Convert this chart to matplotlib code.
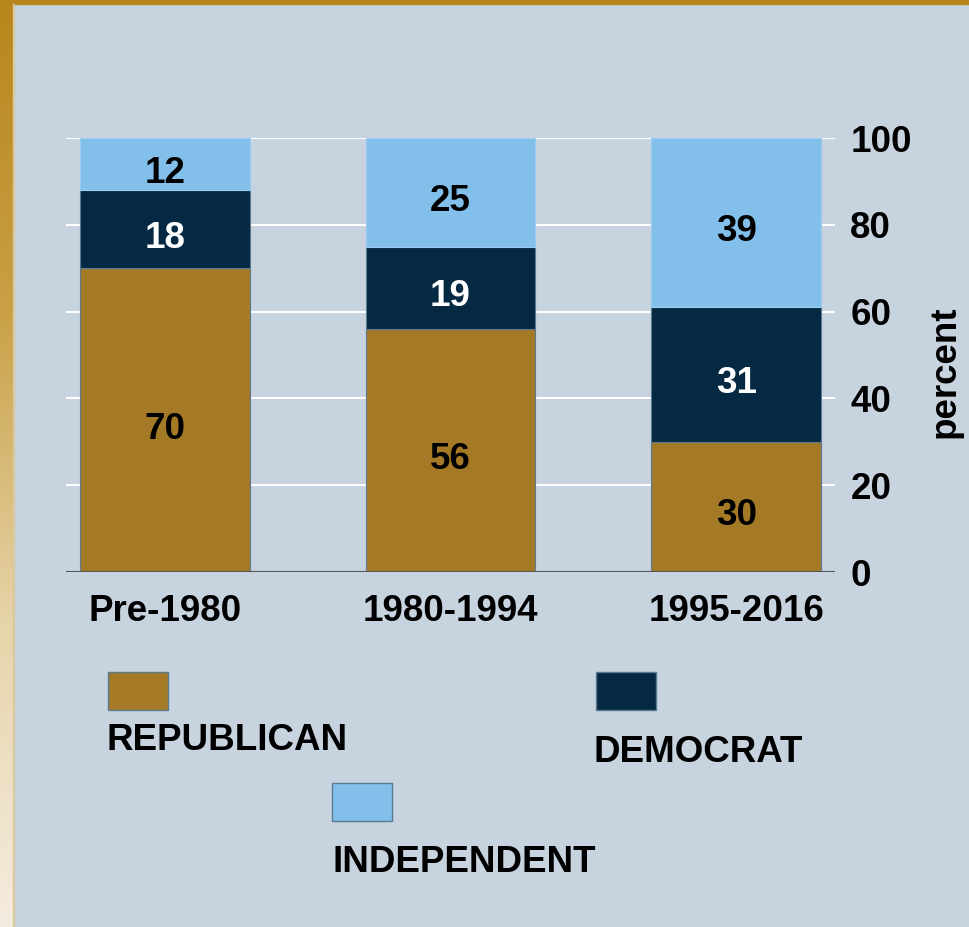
import numpy as np
import matplotlib
matplotlib.use('Agg')
import matplotlib.pyplot as plt
from matplotlib.patches import Rectangle
from matplotlib.colors import LinearSegmentedColormap

plt.rcParams['font.family'] = ['Liberation Sans', 'DejaVu Sans']
plt.rcParams['font.weight'] = 'bold'

periods = ['Pre-1980', '1980-1994', '1995-2016']
republican = [70, 56, 30]
democrat = [18, 19, 31]
independent = [12, 25, 39]
yticks = [0, 20, 40, 60, 80, 100]

BG = '#c7d3df'
REP_COLOR = '#a57a27'
DEM_COLOR = '#052942'
IND_COLOR = '#82c0eb'
EDGE = '#5a7a92'
FS = 26.5

W, H = 970, 927
fig = plt.figure(figsize=(W / 100, H / 100), dpi=100)
fig.patch.set_facecolor(BG)

def px(x, y, w, h):
    # pixel box (top-left origin) -> figure fraction
    return [x / W, 1 - (y + h) / H, w / W, h / H]

# gold frame: left gradient strip and top bar
strip = fig.add_axes(px(0, 0, 13, H))
cmap = LinearSegmentedColormap.from_list('gold', ['#b8861c', '#c9a045', '#e6d3a8', '#f4ecdf'])
strip.imshow(np.linspace(0, 1, 256).reshape(-1, 1), aspect='auto', cmap=cmap)
strip.axis('off')
fig.patches.append(Rectangle((0, 1 - 4 / H), 1, 4 / H, transform=fig.transFigure,
                             color='#b8861c', zorder=5))
fig.patches.append(Rectangle((13 / W, 0), 1.5 / W, 1 - 4 / H, transform=fig.transFigure,
                             color='#d9c9a0', zorder=5))

ax = fig.add_axes(px(66, 138, 769, 434))
ax.set_facecolor(BG)
x = np.arange(len(periods))
width = 0.594

dem_bottom = np.array(republican)
ind_bottom = np.array(republican) + np.array(democrat)

ax.bar(x, republican, width, color=REP_COLOR, edgecolor=EDGE, linewidth=0.8, zorder=3)
ax.bar(x, democrat, width, bottom=dem_bottom, color=DEM_COLOR, edgecolor=EDGE, linewidth=0.8, zorder=3)
ax.bar(x, independent, width, bottom=ind_bottom, color=IND_COLOR, edgecolor='#9ccbee', linewidth=0.8, zorder=3)

def seg_label(xi, y, val, color):
    ax.annotate(str(val), (xi, y), xytext=(0, -6.5), textcoords='offset points',
                ha='center', va='center', fontsize=FS, fontweight='bold',
                color=color, zorder=4)

for i in range(len(periods)):
    seg_label(x[i], republican[i] / 2, republican[i], 'black')
    seg_label(x[i], dem_bottom[i] + democrat[i] / 2, democrat[i], 'white')
    seg_label(x[i], ind_bottom[i] + independent[i] / 2, independent[i], 'black')

ax.set_xlim(-0.346, 2.346)
ax.set_ylim(0, 100)
for y in yticks[1:]:
    ax.axhline(y, color='white', linewidth=1.5, zorder=1)
ax.axhline(0, color='#555555', linewidth=1.5, zorder=4)

for s in ax.spines.values():
    s.set_visible(False)
ax.yaxis.tick_right()
ax.set_yticks(yticks)
ax.set_yticklabels([str(t) for t in yticks], fontsize=FS, fontweight='bold')
ax.tick_params(axis='y', length=0, pad=11)
ax.set_xticks(x)
ax.set_xticklabels(periods, fontsize=FS, fontweight='bold')
ax.tick_params(axis='x', length=0, pad=16)
fig.text(945 / W, 1 - 372 / H, 'percent', rotation=90, ha='center', va='center',
         fontsize=FS, fontweight='bold')

# legend drawn by hand
legend = [
    (REP_COLOR, 'REPUBLICAN', 108, 672, 107, 740),
    (DEM_COLOR, 'DEMOCRAT', 596, 672, 593, 753),
    (IND_COLOR, 'INDEPENDENT', 332, 783, 333, 863),
]
for color, label, bx, by, tx, ty in legend:
    fig.patches.append(Rectangle((bx / W, 1 - (by + 38) / H), 60 / W, 38 / H,
                                 transform=fig.transFigure, facecolor=color,
                                 edgecolor=EDGE, linewidth=1))
    fig.text(tx / W, 1 - ty / H, label, ha='left', va='center',
             fontsize=FS, fontweight='bold', color='black')

fig.savefig('out.png', dpi=100, facecolor=BG)
